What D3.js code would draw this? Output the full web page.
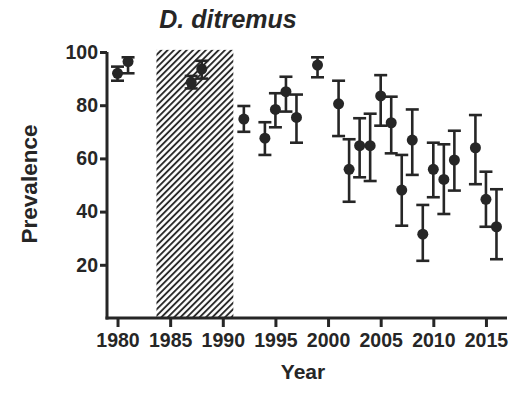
<!DOCTYPE html>
<html><head><meta charset="utf-8">
<script src="https://cdn.jsdelivr.net/npm/d3@7"></script>
<style>body{margin:0;background:#fff}svg{display:block}</style>
</head><body>
<svg id="c" width="516" height="394"></svg>
<script>
const years = [1980,1981,1987,1988,1992,1994,1995,1996,1997,1999,2001,2002,2003,2004,2005,2006,2007,2008,2009,2010,2011,2012,2014,2015,2016];
const prevalence = [92,96.4,88.6,93.6,74.8,67.6,78.4,85.1,75.4,95.1,80.5,55.9,64.8,64.8,83.5,73.4,48.1,66.9,31.5,55.9,52.1,59.4,64.0,44.6,34.3];
const lower = [89.2,92,86.3,90,70,61.3,71.7,77.6,65.9,90.5,68.4,43.7,52.9,51.5,72.3,61.9,34.7,53.8,21.5,45.4,39.1,47.9,50.3,34.3,22.1];
const upper = [94.5,98,91,96.7,79.7,73.6,84.5,90.7,84,98,89.2,67.2,75.1,76.8,91.3,83.2,61.3,78.4,42.5,65.9,65.3,70.4,76.3,55,48.4];
const xTicks = [1980,1985,1990,1995,2000,2005,2010,2015];
const yTicks = [20,40,60,80,100];
const hatchPeriod = [1983.7, 1991];
const hatchTop = 100.8;
const title = "D. ditremus";
const xLabel = "Year", yLabel = "Prevalence";

const svg = d3.select("#c");
const col = "#262626";
const font = "Liberation Sans, Arial, sans-serif";
const x = d3.scaleLinear().domain([1979, 2017]).range([107, 507]);
const y = d3.scaleLinear().domain([0, 100]).range([318, 52]);

const defs = svg.append("defs");
const pat = defs.append("pattern").attr("id","hatch").attr("patternUnits","userSpaceOnUse")
  .attr("width",4.5).attr("height",4.5).attr("patternTransform","rotate(45)");
pat.append("line").attr("x1",1).attr("y1",0).attr("x2",1).attr("y2",4.5)
  .attr("stroke","#1e1e1e").attr("stroke-width",1.8);

svg.append("rect").attr("x",x(hatchPeriod[0])).attr("y",y(hatchTop))
  .attr("width",x(hatchPeriod[1])-x(hatchPeriod[0])).attr("height",y(0)-y(hatchTop))
  .attr("fill","url(#hatch)");

// axes
const xAxis = svg.append("g").attr("transform",`translate(0,${y(0)})`)
  .call(d3.axisBottom(x).tickValues(xTicks).tickFormat(d3.format("d")).tickSizeOuter(0).tickSize(9).tickPadding(6));
const yAxis = svg.append("g").attr("transform",`translate(${x(1979)},0)`)
  .call(d3.axisLeft(y).tickValues(yTicks).tickSizeOuter(0).tickSize(7).tickPadding(2));
[xAxis,yAxis].forEach(g=>{
  g.select(".domain").attr("stroke",col).attr("stroke-width",3);
  g.selectAll(".tick line").attr("stroke",col).attr("stroke-width",3);
  g.selectAll(".tick text").attr("fill",col).attr("font-family",font)
    .attr("font-weight","bold").attr("font-size",19.5);
});
yAxis.select(".domain").attr("d",`M0,${y(0)+1.5}V${y(100)}`);
xAxis.select(".domain").attr("d",`M${x(1979)-1.5},0H${x(2017)}`);

// error bars
const cap = 6.5;
const g = svg.append("g").attr("stroke",col).attr("stroke-width",2.6).attr("fill","none");
years.forEach((yr,i)=>{
  g.append("line").attr("x1",x(yr)).attr("x2",x(yr)).attr("y1",y(lower[i])).attr("y2",y(upper[i]));
  g.append("line").attr("x1",x(yr)-cap).attr("x2",x(yr)+cap).attr("y1",y(lower[i])).attr("y2",y(lower[i]));
  g.append("line").attr("x1",x(yr)-cap).attr("x2",x(yr)+cap).attr("y1",y(upper[i])).attr("y2",y(upper[i]));
});
svg.append("g").selectAll("circle").data(years).join("circle")
  .attr("cx",d=>x(d)).attr("cy",(d,i)=>y(prevalence[i])).attr("r",5.5).attr("fill",col);

// labels
svg.append("text").attr("x",228).attr("y",28).attr("text-anchor","middle")
  .attr("font-family",font).attr("font-weight","bold").attr("font-style","italic")
  .attr("font-size",25).attr("fill",col).text(title);
svg.append("text").attr("x",303).attr("y",379).attr("text-anchor","middle")
  .attr("font-family",font).attr("font-weight","bold")
  .attr("font-size",21).attr("fill",col).text(xLabel);
svg.append("text").attr("transform","translate(37,184) rotate(-90)").attr("text-anchor","middle")
  .attr("font-family",font).attr("font-weight","bold")
  .attr("font-size",22.5).attr("fill",col).text(yLabel);
</script>
</body></html>
